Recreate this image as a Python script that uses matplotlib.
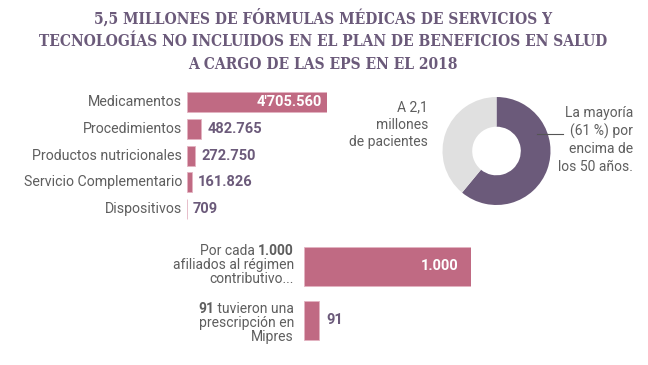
import numpy as np
import matplotlib.pyplot as plt
from matplotlib import rc

rc('font', **{'family': 'Roboto', 'size': 10})

W, H = 648, 365

title = ("5,5 MILLONES DE FÓRMULAS MÉDICAS DE SERVICIOS Y\n"
         "TECNOLOGÍAS NO INCLUIDOS EN EL PLAN DE BENEFICIOS EN SALUD\n"
         "A CARGO DE LAS EPS EN EL 2018")

categories = ['Medicamentos', 'Procedimientos', 'Productos nutricionales',
              'Servicio Complementario', 'Dispositivos']
counts = [4705560, 482765, 272750, 161826, 709]
count_labels = ["4'705.560", '482.765', '272.750', '161.826', '709']

per_1000 = [1000, 91]
per_1000_labels = ['1.000', '91']

share_over_50 = [61, 39]

bar_c = '#c06a83'
bar_edge = '#e3b3c2'
purple = '#6b5a7a'
grey_txt = '#5e5e5e'
donut_grey = '#e0e0e0'


def px(x, y):
    return x / W, 1 - y / H


fig = plt.figure(figsize=(W / 100, H / 100), dpi=100)

fig.text(*px(323, 41), title, ha='center', va='center', color=purple,
         family='DejaVu Serif', fontstretch='condensed', fontweight='bold',
         fontsize=11.2, linespacing=1.42)

# top bars
l, r, t, b = 187, 327, 88.6, 222.6
ax1 = fig.add_axes([l / W, 1 - b / H, (r - l) / W, (b - t) / H])
ypos = np.arange(len(counts))
ax1.barh(ypos, counts, height=0.75, color=bar_c, edgecolor=bar_edge, linewidth=0.6)
ax1.set_xlim(0, counts[0])
ax1.set_ylim(len(counts) - 0.5, -0.5)
ax1.axis('off')
for i, (v, s) in enumerate(zip(counts, count_labels)):
    if i == 0:
        ax1.annotate(s, (v, i), xytext=(-5, 0), textcoords='offset pixels',
                     ha='right', va='center', color='white', fontweight='bold',
                     fontsize=10.5)
    else:
        ax1.annotate(s, (v, i), xytext=(6, 0), textcoords='offset pixels',
                     ha='left', va='center', color=purple, fontweight='bold',
                     fontsize=10.5)
    ax1.annotate(categories[i], (0, i), xytext=(-5, 0), textcoords='offset pixels',
                 ha='right', va='center', color=grey_txt, fontsize=10.2)

# bottom bars
l, r, t, b = 304, 471, 239.5, 347.5
ax2 = fig.add_axes([l / W, 1 - b / H, (r - l) / W, (b - t) / H])
ax2.barh([0, 1], per_1000, height=0.72, color=bar_c, edgecolor=bar_edge, linewidth=0.6)
ax2.set_xlim(0, per_1000[0])
ax2.set_ylim(1.5, -0.5)
ax2.axis('off')
ax2.annotate(per_1000_labels[0], (per_1000[0], 0), xytext=(-12, 0),
             textcoords='offset pixels', ha='right', va='center', color='white',
             fontweight='bold', fontsize=10.5)
ax2.annotate(per_1000_labels[1], (per_1000[1], 1), xytext=(7, 0),
             textcoords='offset pixels', ha='left', va='center', color=purple,
             fontweight='bold', fontsize=10.5)

renderer = fig.canvas.get_renderer()


def mixed_right(x, y, bold, normal, bold_first):
    # right aligned line with one bold and one regular piece
    if bold_first:
        t2 = fig.text(*px(x, y), ' ' + normal, ha='right', va='center',
                      color=grey_txt, fontsize=10)
        w = t2.get_window_extent(renderer).width
        fig.text(*px(x - w, y), bold, ha='right', va='center', color=grey_txt,
                 fontsize=10, fontweight='bold')
    else:
        t2 = fig.text(*px(x, y), bold, ha='right', va='center', color=grey_txt,
                      fontsize=10, fontweight='bold')
        w = t2.get_window_extent(renderer).width
        fig.text(*px(x - w, y), normal + ' ', ha='right', va='center',
                 color=grey_txt, fontsize=10)


mixed_right(294, 251, '1.000', 'Por cada', False)
fig.text(*px(294, 265), 'afiliados al régimen', ha='right', va='center',
         color=grey_txt, fontsize=10)
fig.text(*px(294, 279), 'contributivo...', ha='right', va='center',
         color=grey_txt, fontsize=10)
mixed_right(294, 309, '91', 'tuvieron una', True)
fig.text(*px(294, 323), 'prescripción en', ha='right', va='center',
         color=grey_txt, fontsize=10)
fig.text(*px(294, 337), 'Mipres', ha='right', va='center',
         color=grey_txt, fontsize=10)

# donut
cx, cy, rad = 496.5, 151, 54
ax3 = fig.add_axes([(cx - rad) / W, 1 - (cy + rad) / H, 2 * rad / W, 2 * rad / H])
ax3.pie(share_over_50, colors=[purple, donut_grey], startangle=90,
        counterclock=False, radius=1, wedgeprops=dict(width=0.55))
ax3.set_xlim(-1, 1)
ax3.set_ylim(-1, 1)
ax3.set_aspect('auto')
ax3.axis('off')

fig.text(*px(428, 125), 'A 2,1\nmillones\nde pacientes', ha='right', va='center',
         color=grey_txt, fontsize=10, linespacing=1.3)
fig.text(*px(633, 140), 'La mayoría\n(61 %) por\nencima de\nlos 50 años.',
         ha='right', va='center', color=grey_txt, fontsize=10, linespacing=1.3)
fig.add_artist(plt.Line2D([537 / W, 563 / W], [1 - 134 / H, 1 - 134 / H],
                          color='#555555', linewidth=0.8))

fig.savefig('out.png', dpi=100, facecolor='white')
